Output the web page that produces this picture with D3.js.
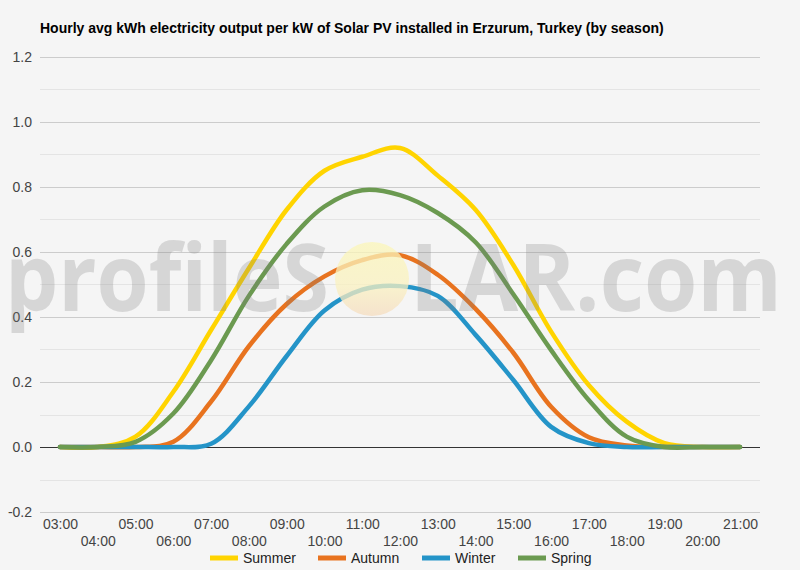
<!DOCTYPE html>
<html>
<head>
    <meta charset="UTF-8">
    <title>Hourly avg kWh electricity output per kW of Solar PV installed in Erzurum, Turkey</title>
    <script src="https://d3js.org/d3.v7.min.js"></script>
    <style>
        body { margin: 0; background: #f5f5f5; }
        svg { font-family: Arial, "Liberation Sans", sans-serif; }
    </style>
</head>
<body>
    <svg></svg>
    <script>
        const hours = ['03:00', '04:00', '05:00', '06:00', '07:00', '08:00', '09:00', '10:00', '11:00', '12:00',
            '13:00', '14:00', '15:00', '16:00', '17:00', '18:00', '19:00', '20:00', '21:00'];
        const summer = [0, 0, 0.032, 0.17, 0.36, 0.55, 0.73, 0.85, 0.893, 0.92, 0.835, 0.73, 0.56, 0.355, 0.19, 0.078, 0.012, 0, 0];
        const autumn = [0, 0, 0, 0.016, 0.14, 0.31, 0.44, 0.525, 0.575, 0.59, 0.53, 0.425, 0.29, 0.124, 0.03, 0.005, 0, 0, 0];
        const winter = [0, 0, 0, 0, 0.01, 0.125, 0.28, 0.42, 0.484, 0.495, 0.465, 0.345, 0.206, 0.062, 0.012, 0, 0, 0, 0];
        const spring = [0, 0, 0.016, 0.103, 0.267, 0.465, 0.625, 0.74, 0.79, 0.775, 0.72, 0.63, 0.47, 0.298, 0.144, 0.032, 0, 0, 0];
        const yTicks = [-0.2, 0, 0.2, 0.4, 0.6, 0.8, 1.0, 1.2];

        const series = [
            { name: 'Summer', values: summer, color: '#ffd400' },
            { name: 'Autumn', values: autumn, color: '#e8731f' },
            { name: 'Winter', values: winter, color: '#2494c8' },
            { name: 'Spring', values: spring, color: '#6b9a50' }
        ];

        const W = 800, H = 570;
        const plot = { left: 40, right: 760, top: 57, bottom: 512 };

        const svg = d3.select('svg')
            .attr('width', W)
            .attr('height', H);

        svg.append('rect')
            .attr('width', W)
            .attr('height', H)
            .attr('fill', '#f5f5f5');

        const x = d3.scalePoint()
            .domain(hours)
            .range([60, 740]);

        const y = d3.scaleLinear()
            .domain([-0.2, 1.2])
            .range([plot.bottom, plot.top]);

        // minor gridlines
        svg.append('g')
            .selectAll('line')
            .data(d3.range(-0.1, 1.2, 0.2))
            .enter().append('line')
            .attr('x1', plot.left)
            .attr('x2', plot.right)
            .attr('y1', d => Math.round(y(d)) + 0.5)
            .attr('y2', d => Math.round(y(d)) + 0.5)
            .attr('stroke', '#e4e4e4');

        // y axis with major gridlines
        const yAxis = svg.append('g')
            .attr('transform', `translate(${plot.left},0)`)
            .call(d3.axisLeft(y)
                .tickValues(yTicks)
                .tickSize(-(plot.right - plot.left))
                .tickPadding(8)
                .tickFormat(d => d.toFixed(1)));
        yAxis.select('.domain').remove();
        yAxis.selectAll('.tick line')
            .attr('stroke', d => d === 0 ? '#333' : '#cccccc');
        yAxis.selectAll('.tick text')
            .attr('fill', '#444')
            .attr('font-size', '14px')
            .attr('font-family', 'Arial, "Liberation Sans", sans-serif');

        // x axis labels, staggered in two rows
        const xAxis = svg.append('g')
            .attr('transform', `translate(0,${plot.bottom})`)
            .call(d3.axisBottom(x).tickSize(0));
        xAxis.select('.domain').remove();
        xAxis.selectAll('.tick text')
            .attr('fill', '#444')
            .attr('font-size', '14px')
            .attr('font-family', 'Arial, "Liberation Sans", sans-serif')
            .attr('dy', 0)
            .attr('y', (d, i) => i % 2 === 0 ? 17 : 34);

        const line = d3.line()
            .x((d, i) => x(hours[i]))
            .y(d => y(d))
            .curve(d3.curveCatmullRom.alpha(0.5));

        svg.append('g')
            .selectAll('path')
            .data(series)
            .enter().append('path')
            .attr('d', d => line(d.values))
            .attr('fill', 'none')
            .attr('stroke', d => d.color)
            .attr('stroke-width', 4.5)
            .attr('stroke-linejoin', 'round')
            .attr('stroke-linecap', 'round');

        // watermark
        const defs = svg.append('defs');
        const grad = defs.append('linearGradient')
            .attr('id', 'sun')
            .attr('x1', 0).attr('y1', 0).attr('x2', 0).attr('y2', 1);
        grad.append('stop').attr('offset', '0%').attr('stop-color', '#fbf6b8');
        grad.append('stop').attr('offset', '60%').attr('stop-color', '#faf1c0');
        grad.append('stop').attr('offset', '100%').attr('stop-color', '#f5dcbf');

        const wm = svg.append('g').attr('pointer-events', 'none');
        wm.append('circle')
            .attr('cx', 372)
            .attr('cy', 279)
            .attr('r', 37)
            .attr('fill', 'url(#sun)')
            .attr('opacity', 0.75);
        wm.append('text')
            .attr('x', 5)
            .attr('y', 311)
            .attr('font-family', '"Open Sans", sans-serif')
            .attr('font-weight', 700)
            .attr('font-size', '94px')
            .attr('textLength', 324)
            .attr('lengthAdjust', 'spacingAndGlyphs')
            .attr('fill', '#7a7a7a')
            .attr('fill-opacity', 0.25)
            .text('profileS');
        wm.append('text')
            .attr('x', 410)
            .attr('y', 311)
            .attr('font-family', '"Open Sans", sans-serif')
            .attr('font-weight', 700)
            .attr('font-size', '94px')
            .attr('textLength', 372)
            .attr('lengthAdjust', 'spacingAndGlyphs')
            .attr('fill', '#7a7a7a')
            .attr('fill-opacity', 0.25)
            .text('LAR.com');

        // title
        svg.append('text')
            .attr('x', 40)
            .attr('y', 33)
            .attr('font-size', '14px')
            .attr('font-weight', 'bold')
            .attr('fill', '#000')
            .text('Hourly avg kWh electricity output per kW of Solar PV installed in Erzurum, Turkey (by season)');

        // legend
        const legendX = [210, 318, 422, 518];
        const legend = svg.append('g')
            .selectAll('g')
            .data(series)
            .enter().append('g')
            .attr('transform', (d, i) => `translate(${legendX[i]},558)`);
        legend.append('line')
            .attr('x1', 0)
            .attr('x2', 28)
            .attr('stroke', d => d.color)
            .attr('stroke-width', 5);
        legend.append('text')
            .attr('x', 33)
            .attr('dy', '0.35em')
            .attr('font-size', '14px')
            .attr('fill', '#222')
            .text(d => d.name);
    </script>
</body>
</html>
